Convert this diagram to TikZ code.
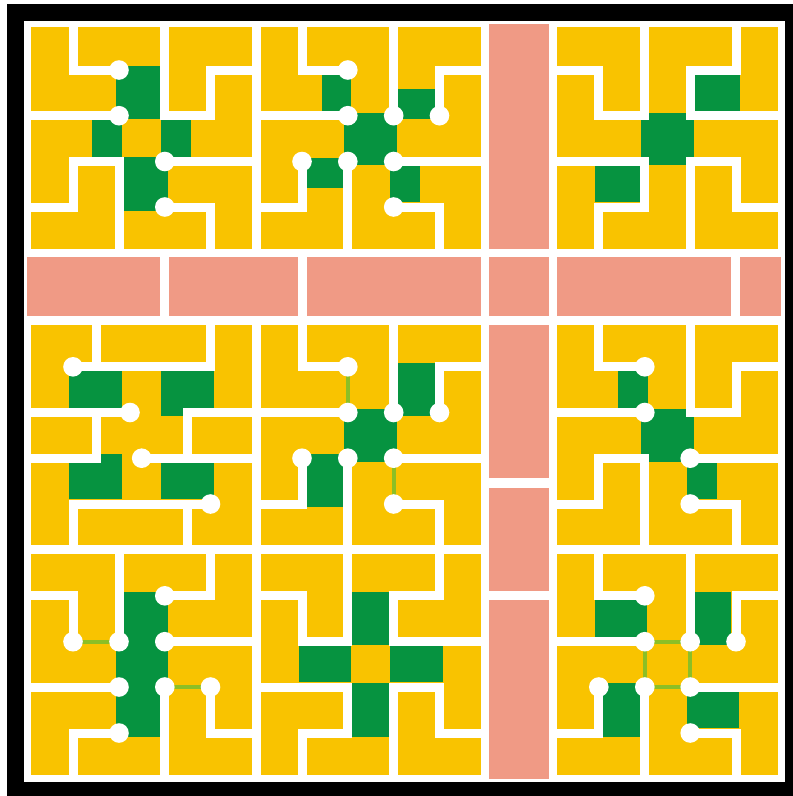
\documentclass[tikz,border=0pt]{standalone}
\definecolor{amberfill}{HTML}{F9C300}
\definecolor{leaf}{HTML}{069340}
\definecolor{salmon}{HTML}{F09A85}
\definecolor{limeline}{HTML}{8CBF26}
\tikzset{
  wall/.style={draw=white,line width=9pt,line cap=rect},
  limelink/.style={draw=limeline,line width=3.6pt},
  pad/.style={fill=salmon},
  block/.style={fill=amberfill},
  cell/.style={fill=leaf},
  pin/.style={fill=white},
}
\newcommand{\greenrect}[4]{\fill[cell] (#1,#2) rectangle (#3,#4);}
\newcommand{\padrect}[4]{\fill[pad] (#1,#2) rectangle (#3,#4);}
\newcommand{\pins}[1]{\foreach \p in {#1} \fill[pin] (\p) circle (9.8pt);}
\begin{document}
\begin{tikzpicture}[x=1pt,y=-1pt]
\useasboundingbox (0,0) rectangle (793,796);
% lattice
\foreach \n/\xs in {A/{30.7,73,119,164.8,210.5,251.7},B/{260.5,302,347.8,393.7,439.5,481},C/{557.3,598.8,644.8,690.2,736,778}}
  \foreach \x [count=\i from 0] in \xs
    \foreach \m/\ys in {P/{27.3,70,115.7,161.5,207,248.7},Q/{325.3,366.8,412.5,458.2,504,545},R/{554,595.8,641.7,687,733,775}}
      \foreach \y [count=\j from 0] in \ys
        \coordinate (\n\i\m\j) at (\x,\y);
% frame
\fill[black] (7,4) rectangle (793,796);
\fill[white] (24,20.5) rectangle (785,781.7);
% salmon pads
\padrect{489.4}{24}{548.7}{248.7}
\padrect{27.3}{257.3}{160}{316}
\padrect{169}{257.3}{297.7}{316}
\padrect{306.7}{257.3}{481}{316}
\padrect{489.4}{257.3}{548.7}{316}
\padrect{557.3}{257.3}{731.3}{316}
\padrect{740.3}{257.3}{781.3}{316}
\padrect{489.4}{325.3}{548.7}{478.3}
\padrect{489.4}{487.5}{548.7}{590.7}
\padrect{489.4}{600.3}{548.7}{778.5}
% yellow blocks
\foreach \c in {A,B,C} \foreach \r in {P,Q,R}
  \fill[block] (\c0\r0) rectangle (\c5\r5);
% --- A / P
\greenrect{115.7}{66}{160}{119.3}
\greenrect{92.3}{120}{122.3}{157}
\greenrect{160.7}{120}{191}{157}
\greenrect{123.3}{157}{167.7}{210.7}
\draw[wall] (A1P0)--(A1P1)--(A2P1);
\draw[wall] (A0P2)--(A2P2);
\draw[wall] (A3P0)--(A3P2)--(A4P2)--(A4P1)--(A5P1);
\draw[wall] (A3P3)--(A5P3);
\draw[wall] (A0P4)--(A1P4)--(A1P3)--(A2P3)--(A2P5);
\draw[wall] (A3P4)--(A4P4)--(A4P5);
\pins{A2P1,A2P2,A3P3,A3P4}
% --- B / P
\greenrect{321.7}{74.3}{351}{111}
\greenrect{344.3}{112.7}{397}{165}
\greenrect{398.3}{89.3}{435}{119}
\greenrect{306.7}{157.7}{343.3}{188.3}
\greenrect{390.3}{165.7}{420.3}{202.3}
\draw[wall] (B1P0)--(B1P1)--(B2P1);
\draw[wall] (B0P2)--(B2P2);
\draw[wall] (B3P0)--(B3P2);
\draw[wall] (B5P1)--(B4P1)--(B4P2);
\draw[wall] (B3P3)--(B5P3);
\draw[wall] (B3P4)--(B4P4)--(B4P5);
\draw[wall] (B2P3)--(B2P5);
\draw[wall] (B1P3)--(B1P4)--(B0P4);
\pins{B2P1,B2P2,B3P2,B4P2,B1P3,B2P3,B3P3,B3P4}
% --- C / P
\greenrect{694.7}{74.3}{739.7}{111}
\greenrect{641.3}{112.7}{693.7}{165}
\greenrect{595}{165.7}{640}{202.3}
\draw[wall] (C0P1)--(C1P1)--(C1P2)--(C2P2)--(C2P0);
\draw[wall] (C4P0)--(C4P1)--(C3P1)--(C3P2)--(C5P2);
\draw[wall] (C0P3)--(C2P3)--(C2P4)--(C1P4)--(C1P5);
\draw[wall] (C5P4)--(C4P4)--(C4P3)--(C3P3)--(C3P5);
% --- A / Q
\coordinate (aux1) at (96,325.3);
\coordinate (aux2) at (96,366.8);
\coordinate (aux3) at (96,412.5);
\coordinate (aux4) at (96,458.2);
\coordinate (aux5) at (187.7,412.5);
\coordinate (aux6) at (187.7,458.2);
\coordinate (aux7) at (187.7,504);
\coordinate (aux8) at (187.7,545);
\coordinate (dotA) at (130,412.5);
\coordinate (dotB) at (141.7,458.2);
\greenrect{69}{371}{122.3}{407.7}
\greenrect{161}{371}{213.7}{415.7}
\greenrect{69}{454.3}{122.3}{499}
\greenrect{161}{462.3}{213.7}{499}
\draw[wall] (aux1)--(aux2);
\draw[wall] (A1Q1)--(A4Q1)--(A4Q0);
\draw[wall] (A0Q2)--(dotA);
\draw[wall] (aux3)--(aux4)--(A0Q3);
\draw[wall] (A5Q2)--(aux5)--(aux6);
\draw[wall] (dotB)--(A5Q3);
\draw[wall] (A1Q5)--(A1Q4)--(A4Q4);
\draw[wall] (aux7)--(aux8);
\pins{A1Q1,dotA,dotB,A4Q4}
% --- B / Q
\greenrect{398.3}{363.3}{435}{415.7}
\greenrect{344.3}{409}{397}{461.7}
\greenrect{306.7}{454.3}{343.3}{507.3}
\draw[wall] (B1Q0)--(B1Q1)--(B2Q1);
\draw[wall] (B0Q2)--(B2Q2);
\draw[wall] (B3Q0)--(B3Q2);
\draw[wall] (B5Q1)--(B4Q1)--(B4Q2);
\draw[wall] (B3Q3)--(B5Q3);
\draw[wall] (B3Q4)--(B4Q4)--(B4Q5);
\draw[wall] (B2Q3)--(B2Q5);
\draw[wall] (B1Q3)--(B1Q4)--(B0Q4);
\draw[limelink] (B2Q1)--(B2Q2);
\draw[limelink] (B3Q3)--(B3Q4);
\pins{B2Q1,B2Q2,B3Q2,B4Q2,B1Q3,B2Q3,B3Q3,B3Q4}
% --- C / Q
\greenrect{618}{371}{648}{407.7}
\greenrect{641.3}{409}{693.7}{461.7}
\greenrect{687}{462.3}{716.7}{499}
\draw[wall] (C1Q0)--(C1Q1)--(C2Q1);
\draw[wall] (C0Q2)--(C2Q2);
\draw[wall] (C3Q0)--(C3Q2)--(C4Q2)--(C4Q1)--(C5Q1);
\draw[wall] (C0Q4)--(C1Q4)--(C1Q3)--(C2Q3)--(C2Q5);
\draw[wall] (C3Q3)--(C5Q3);
\draw[wall] (C3Q4)--(C4Q4)--(C4Q5);
\pins{C2Q1,C2Q2,C3Q3,C3Q4}
% --- A / R
\greenrect{115.7}{592.3}{167.7}{736.7}
\draw[wall] (A0R1)--(A1R1)--(A1R2);
\draw[wall] (A2R0)--(A2R2);
\draw[wall] (A0R3)--(A2R3);
\draw[wall] (A2R4)--(A1R4)--(A1R5);
\draw[wall] (A4R0)--(A4R1)--(A3R1);
\draw[wall] (A3R2)--(A5R2);
\draw[wall] (A3R3)--(A3R5);
\draw[wall] (A4R3)--(A4R4)--(A5R4);
\draw[limelink] (A1R2)--(A2R2);
\draw[limelink] (A3R3)--(A4R3);
\pins{A1R2,A2R2,A3R1,A3R2,A2R3,A3R3,A2R4,A4R3}
% --- B / R
\greenrect{352.3}{592}{389}{645}
\greenrect{298.7}{646}{351.3}{682.3}
\greenrect{390}{646}{442.7}{682.3}
\greenrect{352.3}{683.3}{389}{736.7}
\draw[wall] (B0R1)--(B1R1)--(B1R2)--(B2R2)--(B2R0);
\draw[wall] (B0R3)--(B2R3)--(B2R4)--(B1R4)--(B1R5);
\draw[wall] (B4R0)--(B4R1)--(B3R1)--(B3R2)--(B5R2);
\draw[wall] (B5R4)--(B4R4)--(B4R3)--(B3R3)--(B3R5);
% --- C / R
\greenrect{595}{600}{647.3}{636.7}
\greenrect{694.7}{592}{731.3}{645}
\greenrect{687}{691.7}{739.3}{728.3}
\greenrect{603.3}{683.3}{640}{736.7}
\draw[wall] (C1R0)--(C1R1)--(C2R1);
\draw[wall] (C0R2)--(C2R2);
\draw[wall] (C3R0)--(C3R2);
\draw[wall] (C5R1)--(C4R1)--(C4R2);
\draw[wall] (C3R3)--(C5R3);
\draw[wall] (C3R4)--(C4R4)--(C4R5);
\draw[wall] (C2R3)--(C2R5);
\draw[wall] (C1R3)--(C1R4)--(C0R4);
\draw[limelink] (C2R2)--(C3R2)--(C3R3)--(C2R3)--cycle;
\pins{C2R1,C2R2,C3R2,C4R2,C1R3,C2R3,C3R3,C3R4}
\end{tikzpicture}
\end{document}
